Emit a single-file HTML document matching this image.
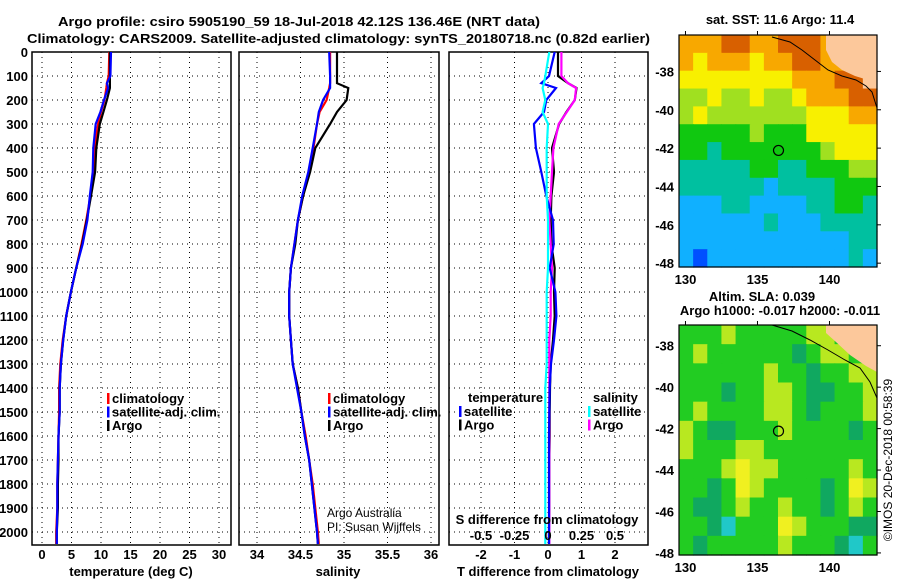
<!DOCTYPE html>
<html><head><meta charset="utf-8">
<style>
html,body{margin:0;padding:0;background:#fff;}
svg{display:block;font-family:"Liberation Sans",sans-serif;}
.b{font-weight:bold;font-size:13px;}
</style></head>
<body>
<svg id="fig" width="900" height="580" viewBox="0 0 900 580" xmlns="http://www.w3.org/2000/svg">
<text x="58" y="26" textLength="482" lengthAdjust="spacingAndGlyphs" class="b" font-size="15.5">Argo profile: csiro 5905190_59 18-Jul-2018 42.12S 136.46E (NRT data)</text>
<text x="27" y="43" textLength="623" lengthAdjust="spacingAndGlyphs" class="b" font-size="15.5">Climatology: CARS2009. Satellite-adjusted climatology: synTS_20180718.nc (0.82d earlier)</text>
<g id="p1"></g>
<g id="p2"></g>
<g id="p3"></g>
<g id="m1"></g>
<g id="m2"></g>
<text x="780" y="24" text-anchor="middle" class="b" font-size="12">sat. SST: 11.6 Argo: 11.4</text>
<text x="762" y="301" text-anchor="middle" class="b" font-size="12">Altim. SLA: 0.039</text>
<text x="780" y="315" text-anchor="middle" class="b" font-size="12">Argo h1000: -0.017 h2000: -0.011</text>
<text transform="translate(892,460) rotate(-90)" text-anchor="middle" font-size="12">©IMOS 20-Dec-2018 00:58:39</text>
</svg>
<script>
const NS="http://www.w3.org/2000/svg";
// ---- data ----
const depthsT=[0,100,130,150,200,250,300,400,500,600,700,800,900,1000,1100,1200,1300,1400,1500,1600,1700,1800,1900,2000,2050];
const tempArgo=[11.5,11.5,11.5,11.5,11.0,10.4,9.8,9.2,9.0,8.3,7.6,6.8,5.8,4.9,4.1,3.6,3.2,3.0,3.0,2.8,2.8,2.7,2.7,2.5,2.5];
const tempClim=[11.4,11.3,11.0,10.9,10.6,10.0,9.5,8.9,8.8,8.2,7.5,6.7,5.8,4.9,4.1,3.5,3.1,2.9,2.9,2.8,2.7,2.6,2.6,2.4,2.4];
const tempSat=[11.7,11.6,11.0,11.2,10.5,9.9,9.1,8.7,8.6,8.1,7.7,6.9,5.8,4.9,4.1,3.6,3.2,3.0,3.0,2.8,2.7,2.6,2.6,2.5,2.5];
const salArgo=[34.92,34.92,34.92,35.05,35.03,34.92,34.84,34.67,34.61,34.53,34.47,34.44,34.39,34.37,34.37,34.39,34.41,34.47,34.51,34.55,34.60,34.63,34.66,34.69,34.70];
const salClim=[34.84,34.84,34.84,34.83,34.80,34.72,34.69,34.65,34.60,34.53,34.47,34.43,34.39,34.37,34.37,34.39,34.41,34.47,34.51,34.56,34.60,34.64,34.67,34.70,34.71];
const salSat=[34.83,34.84,34.84,34.84,34.76,34.71,34.69,34.64,34.59,34.52,34.47,34.43,34.39,34.37,34.37,34.39,34.41,34.46,34.51,34.55,34.60,34.63,34.66,34.69,34.70];
const dTArgo=[0.30,0.30,0.60,0.85,0.80,0.55,0.33,0.12,0.18,0.10,0.08,0.10,0.20,0.18,0.20,0.15,0.08,0.06,0.05,0.05,0.04,0.04,0.04,0.03,0.03];
const dTSat=[0.20,0.03,-0.20,0.24,-0.05,-0.12,-0.42,-0.36,-0.20,-0.05,0.15,0.17,0.05,0.22,0.25,0.18,0.09,0.05,0.04,0.03,0.03,0.03,0.03,0.03,0.03];
const dSArgo=[0.10,0.10,0.15,0.21,0.20,0.14,0.08,0.04,0.03,0.02,0.01,0.02,0.03,0.02,0.02,0.01,0.01,0.01,0.01,0.01,0.01,0.01,0.01,0.01,0.01];
const dSSat=[0.01,-0.02,-0.03,-0.04,-0.02,-0.04,0.0,-0.01,-0.01,-0.01,0.0,0.0,0.0,-0.01,-0.01,-0.01,-0.01,-0.02,-0.02,-0.02,-0.02,-0.02,-0.02,-0.02,-0.02];
const depthTicks=[0,100,200,300,400,500,600,700,800,900,1000,1100,1200,1300,1400,1500,1600,1700,1800,1900,2000];
const tTicks=[0,5,10,15,20,25,30];
const sTicks=[34,34.5,35,35.5,36];
const sTickLabels=["34","34.5","35","35.5","36"];
const dTTicks=[-2,-1,0,1,2];
const dSTicks=[-0.5,-0.25,0,0.25,0.5];
const dSTickLabels=["-0.5","-0.25","0","0.25","0.5"];
const latTicks=[-38,-40,-42,-44,-46,-48];
const lonTicks=[130,135,140];
const sstGrid=[
[7,7,7,8,8,7,7,8,8,8,7,9,9,9],
[7,6,7,7,7,6,7,7,8,8,7,7,9,9],
[6,6,6,6,6,6,6,6,7,7,7,8,8,9],
[5,5,6,5,5,6,5,5,6,7,7,7,8,8],
[5,6,5,5,5,5,5,5,5,6,6,6,7,7],
[4,4,4,4,4,5,4,4,4,6,6,6,6,6],
[4,4,3,4,4,4,4,4,4,4,5,6,6,6],
[3,3,3,3,3,4,4,3,3,4,4,4,5,5],
[3,3,3,3,3,3,2,3,3,3,3,4,4,4],
[2,2,2,3,3,2,2,2,2,3,3,4,4,3],
[2,2,2,2,2,2,3,2,2,2,3,3,3,3],
[2,2,2,2,2,2,2,2,2,2,2,2,3,3],
[2,1,2,2,2,2,2,2,2,2,2,2,3,2]];
const slaGrid=[
[4,4,4,5,4,4,4,4,4,5,5,4,4,4],
[4,5,4,4,4,4,4,4,3,4,5,5,4,4],
[4,4,4,4,4,4,5,4,4,3,4,4,5,5],
[4,4,4,3,4,4,5,5,4,3,3,4,4,5],
[4,5,4,4,4,4,5,5,4,3,4,4,4,5],
[5,4,3,3,4,4,4,5,4,4,4,4,3,4],
[5,4,4,4,5,5,4,4,4,4,4,4,4,4],
[4,4,4,5,6,5,5,4,4,4,4,4,5,4],
[4,4,3,4,6,5,4,4,4,4,3,4,6,5],
[4,3,3,4,5,4,4,5,4,4,3,4,5,4],
[4,4,3,2,4,4,4,6,5,4,4,4,3,3],
[4,3,4,4,4,4,4,5,4,4,4,3,2,4]];
const argoLon=136.46, argoLat=-42.12;
// ---- helpers ----
function el(tag,attrs,parent,text){const e=document.createElementNS(NS,tag);for(const k in attrs)e.setAttribute(k,attrs[k]);if(text!==undefined)e.textContent=text;parent.appendChild(e);return e;}
const TOP=52,BOT=545;
const yD=d=>TOP+d*0.24;
function panel(g,x0,x1,xs,ticks,labels,withDepthLabels,name){
  for(const d of depthTicks){const y=yD(d);
    const l=el('line',{x1:x0,x2:x1,y1:y,y2:y,stroke:'#000','stroke-dasharray':'1,4','stroke-width':1},g);
    
    if(withDepthLabels){const t=el('text',{x:28,y:y+5,'text-anchor':'end',class:'b','font-size':'13'},g,String(d));
      }
  }
  ticks.forEach((v,i)=>{const x=xs(v);
    const l=el('line',{x1:x,x2:x,y1:TOP,y2:BOT,stroke:'#000','stroke-dasharray':'1,4','stroke-width':1},g);
    
    if(labels){const t=el('text',{x:x,y:559,'text-anchor':'middle',class:'b','font-size':'13'},g,labels[i]);
      }
  });
  const r=el('rect',{x:x0,y:TOP,width:x1-x0,height:BOT-TOP,fill:'none',stroke:'#000','stroke-width':1.5},g);
  
}
function profile(g,xs,vals,color,name){
  const pts=vals.map((v,i)=>xs(v).toFixed(1)+','+yD(depthsT[i]).toFixed(1)).join(' ');
  const p=el('polyline',{points:pts,fill:'none',stroke:color,'stroke-width':2.2},g);
  
}
function legend(g,x,y,items,name){
  items.forEach((it,i)=>{const yy=y+i*13.5;
    const m=el('rect',{x:x,y:yy-10,width:2.5,height:11,fill:it[1]},g);
    
    const t=el('text',{x:x+5,y:yy,class:'b','font-size':'12.5'},g,it[0]);
    
  });
}
// panel 1
const g1=document.getElementById('p1');
const xT=v=>42+v*5.9;
panel(g1,32,231,xT,tTicks,tTicks.map(String),true,'temp');
profile(g1,xT,tempClim,'#f00','temp-climatology-line');
profile(g1,xT,tempArgo,'#000','temp-argo-line');
profile(g1,xT,tempSat,'#00f','temp-satellite-line');
legend(g1,107,403,[['climatology','#f00'],['satellite-adj. clim.','#00f'],['Argo','#000']],'temp-legend');
let t=el('text',{x:131,y:576,'text-anchor':'middle',class:'b','font-size':'13'},g1,'temperature (deg C)');

// panel 2
const g2=document.getElementById('p2');
const xS=v=>257+(v-34)*87;
panel(g2,239,439,xS,sTicks,sTickLabels,false,'sal');
profile(g2,xS,salClim,'#f00','sal-climatology-line');
profile(g2,xS,salArgo,'#000','sal-argo-line');
profile(g2,xS,salSat,'#00f','sal-satellite-line');
legend(g2,328,403,[['climatology','#f00'],['satellite-adj. clim.','#00f'],['Argo','#000']],'sal-legend');
t=el('text',{x:338,y:576,'text-anchor':'middle',class:'b','font-size':'13'},g2,'salinity');

t=el('text',{x:327,y:517,'font-size':'12'},g2,'Argo Australia');

t=el('text',{x:327,y:531,'font-size':'12'},g2,'PI: Susan Wijffels');

// panel 3
const g3=document.getElementById('p3');
const xdT=v=>548+v*33.5;
const xdS=v=>548+v*134;
panel(g3,449,648,xdT,dTTicks,dTTicks.map(String),false,'diff');
profile(g3,xdT,dTArgo,'#000','dT-argo-line');
profile(g3,xdS,dSArgo,'#f0f','dS-argo-line');
profile(g3,xdT,dTSat,'#00f','dT-satellite-line');
profile(g3,xdS,dSSat,'#0ff','dS-satellite-line');
dSTicks.forEach((v,i)=>{const tt=el('text',{x:xdS(v),y:540,'text-anchor':'middle',class:'b','font-size':'12.5'},g3,dSTickLabels[i]);
  });
t=el('text',{x:547,y:524,'text-anchor':'middle',class:'b','font-size':'12.5'},g3,'S difference from climatology');

t=el('text',{x:548,y:576,'text-anchor':'middle',class:'b','font-size':'13'},g3,'T difference from climatology');

t=el('text',{x:468,y:402,class:'b','font-size':'12.5'},g3,'temperature');

t=el('text',{x:593,y:402,class:'b','font-size':'12.5'},g3,'salinity');

legend(g3,459,416,[['satellite','#00f'],['Argo','#000']],'diff-legend-temp');
legend(g3,588,416,[['satellite','#0ff'],['Argo','#f0f']],'diff-legend-sal');
// maps
const sstColors=['#0010b0','#0050ff','#10b0ff','#00c0a0','#10c810','#a0e020','#f8f000','#f8a800','#d86000','#fcc89b'];
const slaColors=['#000','#000','#20c8c8','#10a860','#22cc22','#b8e820','#f0f020'];
function mapPanel(g,y0,y1,grid,cols,latTop,latBot,name,land,coast){
  const x0=679,x1=877,nr=grid.length,nc=grid[0].length;
  const cw=(x1-x0)/nc,rh=(y1-y0)/nr;
  const lonS=v=>x0+(v-129.55)*14.4;
  const latS=v=>y0+(latTop-v)*(y1-y0)/(latTop-latBot);
  grid.forEach((row,r)=>row.forEach((v,c)=>{
    const cell=el('rect',{x:(x0+c*cw).toFixed(2),y:(y0+r*rh).toFixed(2),width:(cw+0.6).toFixed(2),height:(rh+0.6).toFixed(2),fill:cols[v]},g);
    
  }));
  const lp=el('polygon',{points:land,fill:'#fcc89b'},g);
  
  const cl=el('polyline',{points:coast,fill:'none',stroke:'#000','stroke-width':1},g);
  
  const mk=el('circle',{cx:lonS(argoLon),cy:latS(argoLat),r:5,fill:'none',stroke:'#000','stroke-width':1.2},g);
  
  const fr=el('rect',{x:x0,y:y0,width:x1-x0,height:y1-y0,fill:'none',stroke:'#000','stroke-width':1.2},g);
  
  latTicks.forEach(v=>{const y=latS(v);
    const tk=el('line',{x1:x1,x2:x1+4,y1:y,y2:y,stroke:'#000'},g);
    
    const tl=el('text',{x:674,y:y+5,'text-anchor':'end',class:'b','font-size':'13'},g,String(v));
    });
  lonTicks.forEach(v=>{const x=lonS(v);
    const tk=el('line',{x1:x,x2:x,y1:y0-4,y2:y0,stroke:'#000'},g);
    
    const tl=el('text',{x:x,y:y1+17,'text-anchor':'middle',class:'b','font-size':'13'},g,String(v));
    });
}
mapPanel(document.getElementById('m1'),35,267,sstGrid,sstColors,-36.1,-48.2,'sst-map',
 '826,35 877,35 877,82 868,80 855,76 842,70 832,62 826,50',
 '772,37 790,42 802,50 815,60 828,70 842,76 856,80 866,86 872,92 877,108');
mapPanel(document.getElementById('m2'),325,555,slaGrid,slaColors,-37.0,-48.1,'sla-map',
 '826,325 877,325 877,372 866,366 850,355 836,342 826,333',
 '772,325 792,331 810,340 828,350 845,360 860,368 870,382 877,398');
</script>
</body></html>
